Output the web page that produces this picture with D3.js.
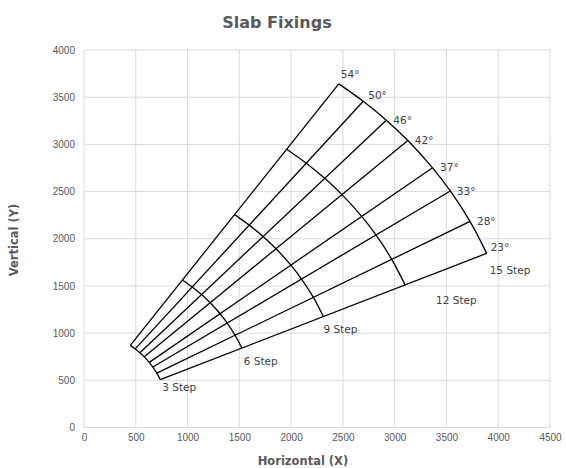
<!DOCTYPE html>
<html>
<head>
<meta charset="utf-8">
<script src="https://cdn.jsdelivr.net/npm/d3@7"></script>
<style>
  body { margin: 0; background: #fff; }
  svg { font-family: "DejaVu Sans", sans-serif; }
</style>
</head>
<body>
<script>
// data (chart units)
const angles = [23, 28, 33, 37, 42, 46, 50, 54];          // degrees
const stepNames = ['3 Step', '6 Step', '9 Step', '12 Step', '15 Step'];
const stepRadius = [868, 1724, 2580, 3437, 4293];
const centre = [-63, 168];
const xTicks = [0, 500, 1000, 1500, 2000, 2500, 3000, 3500, 4000, 4500];
const yTicks = [0, 500, 1000, 1500, 2000, 2500, 3000, 3500, 4000];

// label nudges (px), kept apart from the data
const stepLabelOffset = [[2, 8], [2, 13], [0, 13], [31, 15], [3, 17]];
const angleLabelOffset = [[4, -6], [7, 0], [6.5, 0], [7.5, 0], [7, 0], [7, 0], [5, -5.5], [2, -10]];

const width = 566;
const height = 468;

const svg = d3.select('body')
    .append('svg')
    .attr('width', width)
    .attr('height', height);

const x = d3.scaleLinear().domain([0, 4500]).range([84, 550]);
const y = d3.scaleLinear().domain([0, 4000]).range([427.5, 50]);

const pt = (r, a) => {
    const rad = a * Math.PI / 180;
    return [x(centre[0] + r * Math.cos(rad)), y(centre[1] + r * Math.sin(rad))];
};

// grid
svg.append('g')
    .selectAll('line')
    .data(xTicks)
    .enter()
    .append('line')
    .attr('x1', d => x(d)).attr('x2', d => x(d))
    .attr('y1', y(0)).attr('y2', y(4000))
    .attr('stroke', '#d9d9d9')
    .attr('stroke-width', 1);
svg.append('g')
    .selectAll('line')
    .data(yTicks)
    .enter()
    .append('line')
    .attr('x1', x(0)).attr('x2', x(4500))
    .attr('y1', d => y(d)).attr('y2', d => y(d))
    .attr('stroke', '#d9d9d9')
    .attr('stroke-width', 1);

// axes
const xAxis = d3.axisBottom(x).tickValues(xTicks).tickFormat(d3.format('d')).tickSize(0).tickPadding(6);
const yAxis = d3.axisLeft(y).tickValues(yTicks).tickFormat(d3.format('d')).tickSize(0).tickPadding(9);
svg.append('g')
    .attr('transform', `translate(0, ${y(0)})`)
    .call(xAxis)
    .call(g => g.select('.domain').remove())
    .selectAll('text')
    .style('font-size', '10px')
    .style('fill', '#595959');
svg.append('g')
    .attr('transform', `translate(${x(0)}, 0)`)
    .call(yAxis)
    .call(g => g.select('.domain').remove())
    .selectAll('text')
    .style('font-size', '10px')
    .style('fill', '#595959');

// radial lines
svg.append('g')
    .selectAll('line')
    .data(angles)
    .enter()
    .append('line')
    .attr('x1', d => pt(stepRadius[0], d)[0])
    .attr('y1', d => pt(stepRadius[0], d)[1])
    .attr('x2', d => pt(stepRadius[stepRadius.length - 1], d)[0])
    .attr('y2', d => pt(stepRadius[stepRadius.length - 1], d)[1])
    .attr('stroke', '#000')
    .attr('stroke-width', 1.3);

// step arcs
const arcLine = d3.line().curve(d3.curveCatmullRom);
svg.append('g')
    .selectAll('path')
    .data(stepRadius)
    .enter()
    .append('path')
    .attr('d', r => arcLine(angles.map(a => pt(r, a))))
    .attr('fill', 'none')
    .attr('stroke', '#000')
    .attr('stroke-width', 1.3);

// angle labels
svg.append('g')
    .selectAll('text')
    .data(angles)
    .enter()
    .append('text')
    .attr('x', (d, i) => pt(stepRadius[4], d)[0] + angleLabelOffset[i][0])
    .attr('y', (d, i) => pt(stepRadius[4], d)[1] + angleLabelOffset[i][1])
    .attr('dy', '0.35em')
    .style('font-size', '10.5px')
    .style('fill', '#404040')
    .text(d => d + '°');

// step labels
svg.append('g')
    .selectAll('text')
    .data(stepNames)
    .enter()
    .append('text')
    .attr('x', (d, i) => pt(stepRadius[i], angles[0])[0] + stepLabelOffset[i][0])
    .attr('y', (d, i) => pt(stepRadius[i], angles[0])[1] + stepLabelOffset[i][1])
    .attr('dy', '0.35em')
    .style('font-size', '10.5px')
    .style('fill', '#404040')
    .text(d => d);

// titles
svg.append('text')
    .attr('x', 277)
    .attr('y', 28)
    .attr('text-anchor', 'middle')
    .style('font-size', '16px')
    .style('font-weight', 'bold')
    .style('fill', '#595959')
    .text('Slab Fixings');

svg.append('text')
    .attr('x', 303)
    .attr('y', 465)
    .attr('text-anchor', 'middle')
    .style('font-size', '11.5px')
    .style('font-weight', 'bold')
    .style('fill', '#595959')
    .text('Horizontal (X)');

svg.append('text')
    .attr('transform', 'translate(18, 240) rotate(-90)')
    .attr('text-anchor', 'middle')
    .style('font-size', '11.5px')
    .style('font-weight', 'bold')
    .style('fill', '#595959')
    .text('Vertical (Y)');
</script>
</body>
</html>
